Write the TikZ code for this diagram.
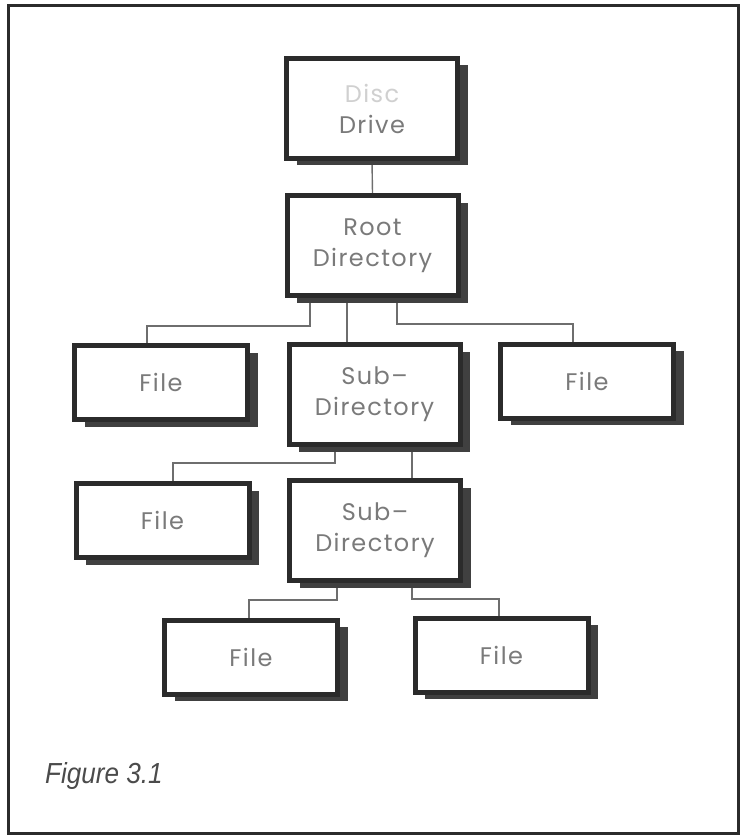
\documentclass[tikz,border=0pt]{standalone}
\usepackage{fontspec}
\setsansfont{Poppins}[LetterSpace=6]
\newfontfamily\captionfont{Liberation Sans}[FakeStretch=0.9]
\usetikzlibrary{shadows, backgrounds}

\definecolor{inkdark}{HTML}{2B2B2B}
\definecolor{inkgrey}{HTML}{7A7A7A}

\begin{document}
\begin{tikzpicture}[%
        x = 1pt, y = -1pt,
        box/.style = {%
            draw = inkdark,
            line width = 5pt,
            fill = white,
            align = center,
            text = inkgrey,
            font = \sffamily\fontsize{24}{31}\selectfont,
            drop shadow = {%
                shadow xshift = 10pt,
                shadow yshift = -7pt,
                fill = inkdark!90,
                opacity = 1
            }
        },
        dirbox/.style = {box, minimum width = 171pt, minimum height = 100pt},
        filebox/.style = {box, minimum width = 173pt, minimum height = 74pt},
        link/.style = {draw = inkgrey!90!black, line width = 1.4pt}
    ]

        \useasboundingbox (0,0) rectangle (742,837);

        % The outer frame.
        \draw[inkdark, line width = 3pt] (8,6) rectangle (738,833);

        % The directory boxes.
        \node[dirbox] (disc) at (372,108.5) {{\color{inkgrey!35}Disc}\\Drive};
        \node[dirbox] (root) at (372.5,245.5) {Root\\Directory};
        \node[dirbox] (sub1) at (374.5,394.5) {Sub--\\Directory};
        \node[dirbox] (sub2) at (375,530.5) {Sub--\\Directory};

        % The file boxes.
        \node[filebox] (file1) at (161,382.5) {File};
        \node[filebox] (file2) at (587,381) {File};
        \node[filebox] (file3) at (162.5,520.5) {File};
        \node[filebox] (file4) at (251,657) {File};
        \node[filebox] (file5) at (501.5,655) {File};

        % Elbows of the connectors.
        \coordinate (r1) at (147,326);
        \coordinate (r2) at (347,326);
        \coordinate (r3) at (573,324);
        \coordinate (s1) at (173,463);
        \coordinate (s2) at (412,463);
        \coordinate (t1) at (249,600);
        \coordinate (t2) at (499,599);

        % Thin connectors behind the boxes.
        \begin{scope}[on background layer]
            \draw[link] (disc.south) -- (root.north);
            \draw[link] ([xshift = -62.5pt]root.south) |- (r1) -- (r1 |- file1.north);
            \draw[link] ([xshift = -25.5pt]root.south) -- (r2 |- sub1.north);
            \draw[link] ([xshift = 24.5pt]root.south) |- (r3) -- (r3 |- file2.north);
            \draw[link] ([xshift = -39.5pt]sub1.south) |- (s1) -- (s1 |- file3.north);
            \draw[link] ([xshift = 37.5pt]sub1.south) -- (s2 |- sub2.north);
            \draw[link] ([xshift = -38pt]sub2.south) |- (t1) -- (t1 |- file4.north);
            \draw[link] ([xshift = 37pt]sub2.south) |- (t2) -- (t2 |- file5.north);
        \end{scope}

        % The caption.
        \node[anchor = base west, inner sep = 0pt, text = inkdark!85,
            font = \captionfont\itshape\fontsize{29}{34}\selectfont]
            (caption) at (45,783) {Figure 3.1};
    \end{tikzpicture}
\end{document}
